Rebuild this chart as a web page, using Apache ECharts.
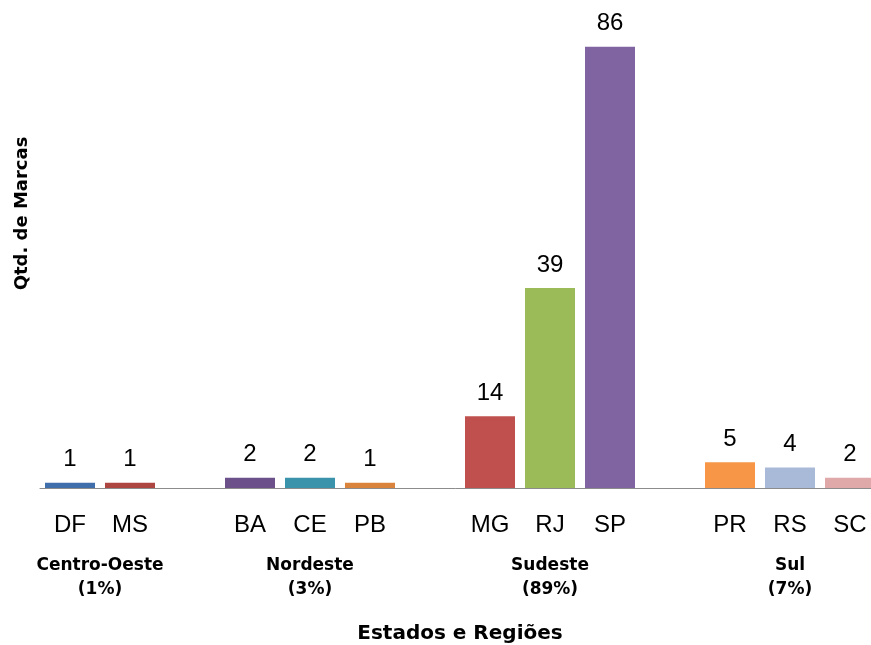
<!DOCTYPE html>
<html>
<head>
<meta charset="utf-8">
<script src="https://cdn.jsdelivr.net/npm/echarts@6/dist/echarts.min.js"></script>
<style>
html,body{margin:0;padding:0;background:#fff;}
#chart{width:871px;height:645px;}
</style>
</head>
<body>
<div id="chart"></div>
<script>
// estados (slots vazios separam as regiões)
var estados = ['DF', 'MS', '', 'BA', 'CE', 'PB', '', 'MG', 'RJ', 'SP', '', 'PR', 'RS', 'SC'];
var marcas = [1, 1, null, 2, 2, 1, null, 14, 39, 86, null, 5, 4, 2];
var cores = ['#3f6eaa', '#ad4541', null, '#6b5089', '#3b93ab', '#d9833c', null,
             '#c0504d', '#9bbb59', '#8064a2', null, '#f79646', '#a9bad8', '#e0a9a9'];
// regiões ficam entre meias-posições (29 pontos, boundaryGap false)
var regioes = ['Centro-Oeste', 'Nordeste', 'Sudeste', 'Sul'];
var percentuais = ['(1%)', '(3%)', '(89%)', '(7%)'];
var posRegiao = [2, 9, 17, 25];

var meias = [];
for (var i = 0; i < 29; i++) meias.push('');
for (var j = 0; j < regioes.length; j++) {
    meias[posRegiao[j]] = regioes[j] + '\n' + percentuais[j];
}

var dados = [];
for (var k = 0; k < marcas.length; k++) {
    dados.push({value: marcas[k], itemStyle: {color: cores[k]}});
}

var fonte = '"Liberation Sans", Arial, sans-serif';
var fonteLarga = '"DejaVu Sans", sans-serif';
var myChart = echarts.init(document.getElementById('chart'));
var option = {
    animation: false,
    grid: {left: 40, top: -25, width: 840, bottom: 157, containLabel: false, outerBoundsMode: 'none'},
    xAxis: [{
        type: 'category',
        data: estados,
        name: 'Estados e Regiões',
        nameLocation: 'middle',
        nameGap: 136,
        nameTextStyle: {fontFamily: fonteLarga, fontSize: 20, fontWeight: 'bold', color: '#000'},
        axisLine: {lineStyle: {color: '#8c8c8c', width: 1}},
        axisTick: {show: false},
        axisLabel: {interval: 0, margin: 25, fontFamily: fonte, fontSize: 24, color: '#000'}
    }, {
        type: 'category',
        data: meias,
        boundaryGap: false,
        position: 'bottom',
        axisLine: {show: false},
        axisTick: {show: false},
        axisLabel: {interval: 0, margin: 66, fontFamily: fonteLarga, fontSize: 17, fontWeight: 'bold',
                    color: '#000', lineHeight: 24}
    }],
    yAxis: {
        type: 'value',
        min: 0,
        max: 100,
        name: 'Qtd. de Marcas',
        nameLocation: 'middle',
        nameGap: 9,
        nameTextStyle: {fontFamily: fonteLarga, fontSize: 18, fontWeight: 'bold', color: '#000',
                        padding: [0, 0, 0, 36]},
        axisLine: {show: false},
        axisTick: {show: false},
        axisLabel: {show: false},
        splitLine: {show: false}
    },
    series: [{
        type: 'bar',
        data: dados,
        barWidth: 50,
        label: {show: true, position: 'top', distance: 11, fontFamily: fonte, fontSize: 24, color: '#000'}
    }]
};
myChart.setOption(option);
</script>
</body>
</html>
